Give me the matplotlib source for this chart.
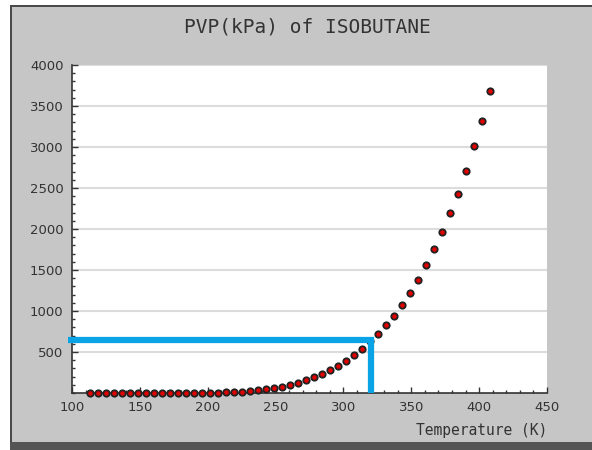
import matplotlib
matplotlib.use("Agg")
import matplotlib.pyplot as plt
from matplotlib.patches import Rectangle
from matplotlib.ticker import MultipleLocator, FixedLocator

# temperature (K) and vapour pressure (kPa)
temp_k = [113.5, 119.4, 125.3, 131.2, 137.1, 143.0, 148.9, 154.7, 160.6, 166.5,
          172.4, 178.3, 184.2, 190.1, 196.0, 201.8, 207.7, 213.6, 219.5, 225.4,
          231.2, 237.1, 243.0, 248.9, 254.8, 260.7, 266.6, 272.5, 278.3, 284.2,
          290.1, 296.0, 301.9, 307.8, 313.6, 319.5, 325.4, 331.3, 337.2, 343.1,
          349.0, 354.9, 360.8, 366.6, 372.5, 378.4, 384.3, 390.2, 396.1, 402.0,
          407.9]
pvp_kpa = [0, 0, 0, 0, 0, 0, 0, 0, 0, 1,
           1, 1, 1, 2, 3, 4, 6, 10, 14, 18,
           24, 35, 45, 58, 72, 96, 125, 155, 190, 235,
           285, 335, 395, 460, 540, 630, 725, 835, 943, 1070,
           1216, 1382, 1561, 1760, 1960, 2195, 2430, 2707, 3012, 3321,
           3687]

# highlighted operating point (blue guide lines)
mark_t = 320
mark_p = 650
guide_start_t = 97

y_ticks = [500, 1000, 1500, 2000, 2500, 3000, 3500, 4000]
x_ticks = [100, 150, 200, 250, 300, 350, 400, 450]

W, H = 592, 450
fig = plt.figure(figsize=(W / 100, H / 100), dpi=100, facecolor="white")

# grey panel with dark top/left border and dark bottom band
fig.patches.append(Rectangle((11 / W, 0), 1 - 11 / W, 1 - 5 / H,
                             transform=fig.transFigure, facecolor="#c6c6c6",
                             edgecolor="none", zorder=-10))
fig.patches.append(Rectangle((11 / W, 1 - 7 / H), 1 - 11 / W, 2 / H,
                             transform=fig.transFigure, facecolor="#4a4a4a",
                             edgecolor="none", zorder=-9))
fig.patches.append(Rectangle((10 / W, 8 / H), 2 / W, 1 - 13 / H,
                             transform=fig.transFigure, facecolor="#4a4a4a",
                             edgecolor="none", zorder=-9))
fig.patches.append(Rectangle((10 / W, 0), 1 - 10 / W, 8 / H,
                             transform=fig.transFigure, facecolor="#555555",
                             edgecolor="none", zorder=-9))

ax = fig.add_axes([72 / W, 57 / H, 475 / W, 328 / H])
ax.set_facecolor("white")

ax.plot(temp_k, pvp_kpa, linestyle="none", marker="o", markersize=4.6,
        markerfacecolor="#e00000", markeredgecolor="#222222",
        markeredgewidth=1.3, clip_on=False, zorder=5)

ax.plot([guide_start_t, mark_t, mark_t], [mark_p, mark_p, 0],
        color="#0aa3e6", linewidth=4.5, solid_joinstyle="miter",
        solid_capstyle="butt", clip_on=False, zorder=6)

ax.set_xlim(100, 450)
ax.set_ylim(0, 4000)
ax.xaxis.set_major_locator(FixedLocator(x_ticks))
ax.xaxis.set_minor_locator(MultipleLocator(10))
ax.yaxis.set_major_locator(FixedLocator(y_ticks))
ax.yaxis.set_minor_locator(MultipleLocator(100))

ax.grid(axis="y", which="major", color="#dcdcdc", linewidth=1.5)
ax.set_axisbelow(True)

for s in ["top", "right"]:
    ax.spines[s].set_visible(False)
for s in ["left", "bottom"]:
    ax.spines[s].set_color("#333333")
    ax.spines[s].set_linewidth(1.2)

ax.tick_params(which="both", direction="in", color="#333333", width=1.0,
               labelsize=9.5, labelcolor="#333333")
ax.tick_params(which="major", length=4.5, pad=6)
ax.tick_params(which="minor", length=2.5)

fig.text(307 / W, 1 - 27 / H, "PVP(kPa) of ISOBUTANE", ha="center",
         va="center", fontsize=14, family="DejaVu Sans Mono", color="#333333")
fig.text(547 / W, 1 - 431 / H, "Temperature (K)", ha="right", va="center",
         fontsize=10.5, family="DejaVu Sans Mono", color="#333333")

fig.savefig("out.png", dpi=100, facecolor=fig.get_facecolor())
